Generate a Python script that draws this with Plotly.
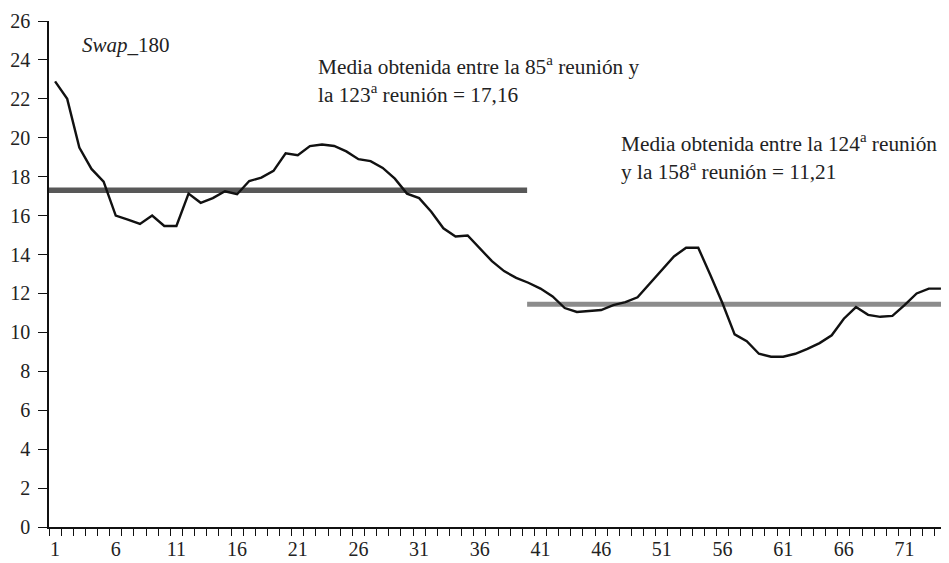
import plotly.graph_objects as go

# ---- data ----
reuniones = list(range(1, 75))
swap_180 = [
    22.9, 22.0, 19.5, 18.4, 17.75, 16.0, 15.8, 15.57, 16.0, 15.47,
    15.47, 17.13, 16.66, 16.9, 17.25, 17.1, 17.78, 17.95, 18.3, 19.2,
    19.1, 19.57, 19.65, 19.58, 19.3, 18.9, 18.8, 18.45, 17.9, 17.13,
    16.9, 16.2, 15.35, 14.93, 14.98, 14.34, 13.66, 13.15, 12.8, 12.55,
    12.25, 11.85, 11.25, 11.05, 11.1, 11.15, 11.4, 11.55, 11.8, 12.5,
    13.2, 13.9, 14.35, 14.35, 12.95, 11.5, 9.9, 9.55, 8.9, 8.75,
    8.75, 8.9, 9.15, 9.45, 9.85, 10.7, 11.3, 10.9, 10.8, 10.85,
    11.4, 12.0, 12.25, 12.25,
]
mean1_x = [0.5, 39.9]
mean1_y = [17.3, 17.3]
mean2_x = [39.9, 74.5]
mean2_y = [11.45, 11.45]
x_tick_vals = [1, 6, 11, 16, 21, 26, 31, 36, 41, 46, 51, 56, 61, 66, 71]
y_tick_vals = list(range(0, 27, 2))

FONT = "Liberation Serif"
TXT = "#222222"

fig = go.Figure()
fig.add_trace(go.Scatter(x=mean1_x, y=mean1_y, mode="lines",
                         line=dict(color="#585858", width=5.5), hoverinfo="skip"))
fig.add_trace(go.Scatter(x=mean2_x, y=mean2_y, mode="lines",
                         line=dict(color="#8c8c8c", width=5), hoverinfo="skip"))
fig.add_trace(go.Scatter(x=reuniones, y=swap_180, mode="lines",
                         line=dict(color="#111111", width=2.4)))

# The page body has an 8px default margin, so the figure is drawn 8px in.
OFF = 8
W, H = 949 - OFF, 563 - OFF
# plot area in screen pixels
SL, ST, SR, SB = 49, 15.5, 947, 527
L, T = SL - OFF, ST - OFF
R = W - (SR - OFF)
B = H - (SB - OFF)
pw, ph = SR - SL, SB - ST


def px(xp):
    return (xp - SL) / pw


def py(yp):
    return (SB - yp) / ph


fig.update_layout(
    width=W, height=H,
    margin=dict(l=L, r=R, t=T, b=B, pad=0),
    paper_bgcolor="white", plot_bgcolor="white",
    showlegend=False,
    font=dict(family=FONT, size=20, color=TXT),
    xaxis=dict(
        range=[0.5, 74.5], tickmode="array", tickvals=x_tick_vals,
        ticks="outside", ticklen=0, showgrid=False, zeroline=False,
        showline=True, linecolor="#111111", linewidth=1.5,
        ticklabelstandoff=3, ticklabeloverflow="allow",
        tickfont=dict(family=FONT, size=20, color=TXT),
        minor=dict(tick0=0.5, dtick=1, ticks="outside", ticklen=7,
                   tickcolor="#111111", tickwidth=1.2, showgrid=False),
    ),
    yaxis=dict(
        range=[0, 26], tickmode="array", tickvals=y_tick_vals,
        ticks="outside", ticklen=9, tickcolor="#111111", tickwidth=1.2,
        showgrid=False, zeroline=False,
        showline=True, linecolor="#111111", linewidth=1.5,
        ticklabelstandoff=4, ticklabeloverflow="allow",
        tickfont=dict(family=FONT, size=20, color=TXT),
    ),
)

fig.add_annotation(xref="paper", yref="paper", x=px(80), y=py(40),
                   xanchor="left", yanchor="middle", showarrow=False,
                   text="<i>Swap</i>_180", font=dict(family=FONT, size=21, color=TXT))
fig.add_annotation(xref="paper", yref="paper", x=px(316), y=py(75),
                   xanchor="left", yanchor="middle", showarrow=False, align="left",
                   text="Media obtenida entre la 85<sup>a</sup> reunión y<br>la 123<sup>a</sup> reunión = 17,16",
                   font=dict(family=FONT, size=21.3, color=TXT))
fig.add_annotation(xref="paper", yref="paper", x=px(619), y=py(152),
                   xanchor="left", yanchor="middle", showarrow=False, align="left",
                   text="Media obtenida entre la 124<sup>a</sup> reunión<br>y la 158<sup>a</sup> reunión = 11,21",
                   font=dict(family=FONT, size=21.3, color=TXT))

fig.write_html("out.html")
